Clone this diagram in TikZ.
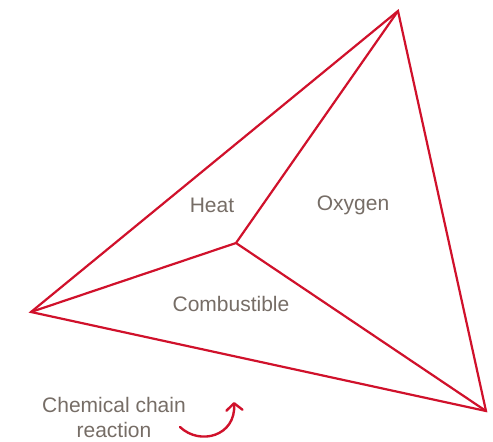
\documentclass[tikz,border=0pt]{standalone}
\usepackage{fontspec}
\setmainfont{Liberation Sans}
\usetikzlibrary{arrows.meta}
\definecolor{fire}{HTML}{D0112B}
\definecolor{txt}{HTML}{766D66}
\begin{document}
\begin{tikzpicture}[x=1pt,y=-1pt,
  edge/.style={draw=fire,line width=2.2pt,line join=miter},
  lab/.style={text=txt,font=\fontsize{21}{25}\selectfont,inner sep=0pt}]
\useasboundingbox (0,0) rectangle (493,442);
\coordinate (T) at (398,11);
\coordinate (L) at (31,312);
\coordinate (R) at (486,411);
\coordinate (C) at (236,243);
\draw[edge] (T) -- (L) -- (R) -- cycle;
\draw[edge] (C) -- (T);
\draw[edge] (C) -- (L);
\draw[edge] (C) -- (R);
\node[lab] (heat) at (212,205) {Heat};
\node[lab] (oxy) at (353,205) {Oxygen};
\node[lab] (comb) at (231,304) {Combustible};
\node[lab,align=center] (chem) at (114,417) {Chemical chain\\reaction};
\coordinate (a1) at (180,427);
\coordinate (a2) at (234,402);
\draw[draw=fire,line width=2.4pt,line cap=round,-{Straight Barb[length=7pt,width=16pt,round]}] (a1) .. controls (200,446) and (236,436) .. (a2);
\end{tikzpicture}
\end{document}
